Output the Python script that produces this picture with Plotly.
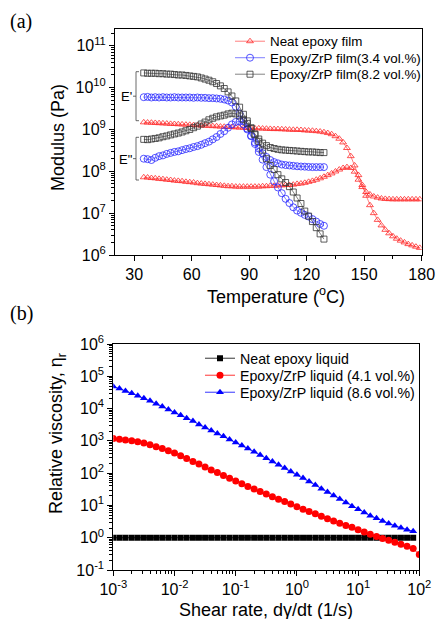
import plotly.graph_objects as go

W, H = 436, 619

# ---------------- Panel (a) data ----------------
T_neat = [35, 37, 39, 41, 43, 45, 47, 49, 51, 53, 55, 57, 59, 61, 63, 65, 67, 69, 71, 73,
          75, 77, 79, 81, 83, 85, 87, 89, 91, 93, 95, 97, 99, 101, 103, 105, 107, 109, 111, 113,
          115, 117, 119, 121, 123, 125, 127, 129, 131, 133, 135, 137, 139, 141, 143, 145, 147, 149, 151, 153,
          155, 157, 159, 161, 163, 165, 167, 169, 171, 173, 175, 177, 179]
neat_storage = [1.48e9, 1.46e9, 1.45e9, 1.43e9, 1.41e9, 1.40e9, 1.38e9, 1.36e9, 1.35e9, 1.33e9,
                1.32e9, 1.30e9, 1.29e9, 1.27e9, 1.26e9, 1.24e9, 1.23e9, 1.22e9, 1.20e9, 1.19e9,
                1.17e9, 1.16e9, 1.15e9, 1.14e9, 1.12e9, 1.11e9, 1.10e9, 1.08e9, 1.07e9, 1.06e9,
                1.06e9, 1.05e9, 1.04e9, 1.03e9, 1.02e9, 1.02e9, 1.01e9, 1.00e9, 9.9e8, 9.8e8,
                9.8e8, 9.7e8, 9.5e8, 9.4e8, 9.3e8, 9.1e8, 8.9e8, 8.6e8, 8.2e8, 7.7e8,
                6.9e8, 6.0e8, 4.9e8, 3.6e8, 2.3e8, 1.38e8, 8.1e7, 4.7e7, 2.6e7, 1.55e7,
                1.0e7, 6.9e6, 5.1e6, 4.0e6, 3.3e6, 2.8e6, 2.45e6, 2.2e6, 2.0e6, 1.82e6,
                1.7e6, 1.58e6, 1.48e6]
neat_loss = [7.2e7, 7.1e7, 6.9e7, 6.8e7, 6.6e7, 6.5e7, 6.3e7, 6.2e7, 6.0e7, 5.9e7,
             5.8e7, 5.6e7, 5.5e7, 5.4e7, 5.2e7, 5.1e7, 5.0e7, 4.9e7, 4.8e7, 4.7e7,
             4.6e7, 4.5e7, 4.4e7, 4.4e7, 4.3e7, 4.3e7, 4.3e7, 4.3e7, 4.3e7, 4.3e7,
             4.3e7, 4.4e7, 4.4e7, 4.5e7, 4.5e7, 4.6e7, 4.6e7, 4.7e7, 4.7e7, 4.8e7,
             5.0e7, 5.1e7, 5.3e7, 5.6e7, 5.9e7, 6.3e7, 6.8e7, 7.4e7, 8.1e7, 8.9e7,
             9.9e7, 1.10e8, 1.20e8, 1.26e8, 1.20e8, 9.8e7, 6.3e7, 4.2e7, 3.2e7, 2.8e7,
             2.5e7, 2.35e7, 2.24e7, 2.19e7, 2.16e7, 2.14e7, 2.14e7, 2.14e7, 2.14e7, 2.14e7,
             2.14e7, 2.14e7, 2.14e7]

T_zrp = [35, 37, 39, 41, 43, 45, 47, 49, 51, 53, 55, 57, 59, 61, 63, 65, 67, 69, 71, 73,
         75, 77, 79, 81, 83, 85, 87, 89, 91, 93, 95, 97, 99, 101, 103, 105, 107, 109, 111, 113,
         115, 117, 119, 121, 123, 125, 127, 129]
zrp34_storage = [5.9e9, 6.0e9, 5.8e9, 5.9e9, 5.8e9, 5.9e9, 5.8e9, 5.8e9, 5.9e9, 5.8e9,
                 5.8e9, 5.8e9, 5.8e9, 5.7e9, 5.8e9, 5.7e9, 5.7e9, 5.6e9, 5.6e9, 5.5e9,
                 5.4e9, 5.2e9, 4.9e9, 4.4e9, 3.5e9, 2.4e9, 1.58e9, 1.05e9, 7.1e8, 4.9e8,
                 3.5e8, 2.7e8, 2.2e8, 1.86e8, 1.66e8, 1.55e8, 1.45e8, 1.41e8, 1.38e8, 1.35e8,
                 1.32e8, 1.30e8, 1.29e8, 1.27e8, 1.26e8, 1.26e8, 1.26e8, 1.26e8]
zrp34_loss = [2.0e8, 1.95e8, 1.86e8, 2.1e8, 2.3e8, 2.4e8, 2.6e8, 2.75e8, 2.9e8, 3.0e8,
              3.2e8, 3.4e8, 3.55e8, 3.8e8, 4.0e8, 4.3e8, 4.7e8, 5.1e8, 5.8e8, 6.6e8,
              7.8e8, 9.1e8, 1.10e9, 1.32e9, 1.51e9, 1.55e9, 1.32e9, 1.0e9, 6.9e8, 4.5e8,
              2.9e8, 1.9e8, 1.26e8, 8.3e7, 5.8e7, 4.1e7, 3.0e7, 2.2e7, 1.74e7, 1.38e7,
              1.15e7, 1.02e7, 9.1e6, 8.3e6, 7.2e6, 6.3e6, 5.5e6, 5.0e6]
zrp82_storage = [2.24e10, 2.2e10, 2.2e10, 2.2e10, 2.15e10, 2.15e10, 2.1e10, 2.1e10, 2.05e10, 2.0e10,
                 2.0e10, 1.95e10, 1.9e10, 1.85e10, 1.8e10, 1.7e10, 1.6e10, 1.5e10, 1.38e10, 1.25e10,
                 1.1e10, 9.5e9, 7.9e9, 6.3e9, 4.8e9, 3.4e9, 2.3e9, 1.6e9, 1.1e9, 7.8e8,
                 5.9e8, 4.7e8, 4.1e8, 3.7e8, 3.5e8, 3.35e8, 3.25e8, 3.2e8, 3.15e8, 3.1e8,
                 3.05e8, 3.0e8, 2.95e8, 2.9e8, 2.9e8, 2.85e8, 2.8e8, 2.8e8]
zrp82_loss = [5.8e8, 5.7e8, 5.9e8, 6.1e8, 6.3e8, 6.7e8, 7.0e8, 7.4e8, 7.8e8, 8.2e8,
              8.7e8, 9.3e8, 1.0e9, 1.1e9, 1.2e9, 1.35e9, 1.5e9, 1.7e9, 1.85e9, 2.0e9,
              2.1e9, 2.2e9, 2.35e9, 2.45e9, 2.35e9, 2.1e9, 1.75e9, 1.4e9, 1.05e9, 7.5e8,
              5.2e8, 3.2e8, 2.0e8, 1.38e8, 1.1e8, 8.3e7, 6.6e7, 5.4e7, 4.3e7, 3.2e7,
              2.3e7, 1.7e7, 1.12e7, 8.5e6, 6.3e6, 4.5e6, 3.2e6, 2.4e6]

# ---------------- Panel (b) data ----------------
shear_rate = [0.001, 0.00126, 0.00158, 0.002, 0.00251, 0.00316, 0.00398, 0.00501, 0.00631, 0.00794,
              0.01, 0.0126, 0.0158, 0.02, 0.0251, 0.0316, 0.0398, 0.0501, 0.0631, 0.0794,
              0.1, 0.126, 0.158, 0.2, 0.251, 0.316, 0.398, 0.501, 0.631, 0.794,
              1.0, 1.26, 1.58, 2.0, 2.51, 3.16, 3.98, 5.01, 6.31, 7.94,
              10.0, 12.6, 15.8, 20.0, 25.1, 31.6, 39.8, 50.1, 63.1, 79.4,
              100.0]
neat_liquid = [1.0, 1.0, 1.0, 1.0, 1.0, 1.0, 1.0, 1.0, 1.0, 1.0,
               1.0, 1.0, 1.0, 1.0, 1.0, 1.0, 1.0, 1.0, 1.0, 1.0,
               1.0, 1.0, 1.0, 1.0, 1.0, 1.0, 1.0, 1.0, 1.0, 1.0,
               1.0, 1.0, 1.0, 1.0, 1.0, 1.0, 1.0, 1.0, 1.0, 1.0,
               1.0, 1.0, 1.0, 1.0, 1.0, 1.0, 1.0, 1.0, 1.0, 1.0]
zrp41_liquid = [1175, 1120, 1070, 1000, 933, 851, 759, 661, 575, 490,
                417, 347, 282, 229, 191, 155, 126, 105, 85, 69,
                57.5, 46.8, 38.9, 32.4, 26.9, 22.4, 18.6, 15.5, 13.2, 11.0,
                9.1, 7.6, 6.5, 5.5, 4.6, 3.9, 3.3, 2.8, 2.4, 2.1,
                1.78, 1.51, 1.29, 1.10, 0.95, 0.83, 0.72, 0.63, 0.54, 0.46,
                0.30]
zrp86_liquid = [4.8e4, 4.2e4, 3.5e4, 3.0e4, 2.5e4, 2.1e4, 1.74e4, 1.41e4, 1.15e4, 9.3e3,
                7.6e3, 6.2e3, 5.0e3, 4.1e3, 3.2e3, 2.6e3, 2.1e3, 1.7e3, 1.38e3, 1.10e3,
                890, 720, 575, 457, 363, 288, 229, 182, 145, 112,
                89, 71, 55, 43, 33, 26, 20.4, 15.8, 12.3, 9.5,
                7.6, 6.0, 4.8, 4.0, 3.3, 2.75, 2.34, 2.04, 1.78, 1.58]

mod_tickvals = [1e6, 1e7, 1e8, 1e9, 1e10, 1e11]
mod_ticktext = ["10<sup>6</sup>", "10<sup>7</sup>", "10<sup>8</sup>", "10<sup>9</sup>",
                "10<sup>10</sup>", "10<sup>11</sup>"]
temp_tickvals = [30, 60, 90, 120, 150, 180]
visc_tickvals = [0.1, 1, 10, 100, 1000, 1e4, 1e5, 1e6]
visc_ticktext = ["10<sup>-1</sup>", "10<sup>0</sup>", "10<sup>1</sup>", "10<sup>2</sup>",
                 "10<sup>3</sup>", "10<sup>4</sup>", "10<sup>5</sup>", "10<sup>6</sup>"]
rate_tickvals = [1e-3, 1e-2, 1e-1, 1, 10, 100]
rate_ticktext = ["10<sup>-3</sup>", "10<sup>-2</sup>", "10<sup>-1</sup>", "10<sup>0</sup>",
                 "10<sup>1</sup>", "10<sup>2</sup>"]

SANS = "Liberation Sans, Arial, sans-serif"
SERIF = "Liberation Serif, Times New Roman, serif"


def px(x):
    return x / W


def py(y):
    return (H - y) / H


RED_A = "#ff2828"
BLUE_A = "#2828ff"
BLACK_A = "#333333"

fig = go.Figure()
legend_layouts = {}


def add_legend(key, text_left, row_center, size):
    # one legend box per entry so that rows can be spaced like the reference
    legend_layouts[key] = dict(
        x=px(text_left - 41), y=py(row_center - 15), xanchor="left", yanchor="top",
        bgcolor="rgba(0,0,0,0)", borderwidth=0, tracegroupgap=0, itemwidth=30,
        font=dict(family=SANS, size=size, color="black"))


def film(x, y, color, symbol, size, name, show, leg):
    fig.add_trace(go.Scatter(
        x=x, y=y, mode="lines+markers", name=name, showlegend=show,
        line=dict(color=color, width=0.6),
        marker=dict(symbol=symbol, size=size, color=color,
                    line=dict(color=color, width=0.8)),
        xaxis="x", yaxis="y", legend=leg))


film(T_neat, neat_storage, RED_A, "triangle-up-open", 6, "Neat epoxy film", True, "legend")
film(T_neat, neat_loss, RED_A, "triangle-up-open", 6, "Neat epoxy film", False, "legend")
film(T_zrp, zrp34_storage, BLUE_A, "circle-open", 7, "Epoxy/ZrP film(3.4 vol.%)", True, "legend2")
film(T_zrp, zrp34_loss, BLUE_A, "circle-open", 7, "Epoxy/ZrP film(3.4 vol.%)", False, "legend2")
film(T_zrp, zrp82_storage, BLACK_A, "square-open", 6, "Epoxy/ZrP film(8.2 vol.%)", True, "legend3")
film(T_zrp, zrp82_loss, BLACK_A, "square-open", 6, "Epoxy/ZrP film(8.2 vol.%)", False, "legend3")
add_legend("legend", 271, 41, 13.4)
add_legend("legend2", 271, 57.5, 13.4)
add_legend("legend3", 271, 74, 13.4)


def liquid(x, y, color, symbol, size, name, leg):
    fig.add_trace(go.Scatter(
        x=x, y=y, mode="lines+markers", name=name,
        line=dict(color=color, width=0.8),
        marker=dict(symbol=symbol, size=size, color=color, line=dict(width=0)),
        xaxis="x2", yaxis="y2", legend=leg))


liquid(shear_rate[:len(neat_liquid)], neat_liquid, "#000000", "square", 6, "Neat epoxy liquid", "legend4")
liquid(shear_rate[:len(zrp41_liquid)], zrp41_liquid, "#ff0000", "circle", 7,
       "Epoxy/ZrP liquid (4.1 vol.%)", "legend5")
liquid(shear_rate[:len(zrp86_liquid)], zrp86_liquid, "#0000ff", "triangle-up", 7,
       "Epoxy/ZrP liquid (8.6 vol.%)", "legend6")
add_legend("legend4", 241, 357.5, 14.2)
add_legend("legend5", 241, 374.5, 14.2)
add_legend("legend6", 241, 391.5, 14.2)

axis_common = dict(showline=True, linecolor="black", linewidth=1, mirror=True,
                   ticks="outside", ticklen=5, tickwidth=1, tickcolor="black",
                   showgrid=False, zeroline=False, automargin=False,
                   tickfont=dict(family=SANS, size=16, color="black"))

fig.update_layout(
    width=W, height=H,
    margin=dict(l=0, r=0, t=0, b=0),
    paper_bgcolor="white", plot_bgcolor="white",
    xaxis=dict(domain=[px(115), px(421.7)], anchor="y", range=[20, 180],
               tickvals=temp_tickvals,
               minor=dict(ticks="outside", ticklen=3, tickcolor="black", dtick=15, tick0=15),
               **axis_common),
    yaxis=dict(domain=[py(255), py(29)], anchor="x", type="log", range=[6, 11.4],
               tickvals=mod_tickvals, ticktext=mod_ticktext,
               minor=dict(ticks="outside", ticklen=3, tickcolor="black", dtick="D1"),
               **axis_common),
    xaxis2=dict(domain=[px(113.3), px(419.3)], anchor="y2", type="log", range=[-3, 2],
                tickvals=rate_tickvals, ticktext=rate_ticktext,
                minor=dict(ticks="outside", ticklen=3, tickcolor="black", dtick="D1"),
                **axis_common),
    yaxis2=dict(domain=[py(570), py(344)], anchor="x2", type="log", range=[-1, 6],
                tickvals=visc_tickvals, ticktext=visc_ticktext,
                minor=dict(ticks="outside", ticklen=3, tickcolor="black", dtick="D1"),
                **axis_common),
    **legend_layouts,
)


def label(text, x, y, size, family=SANS, angle=0):
    return dict(text=text, x=px(x), y=py(y), xref="paper", yref="paper",
                xanchor="center", yanchor="middle", textangle=angle,
                showarrow=False, font=dict(family=family, size=size, color="black"))


ann = [
    label("(a)", 21, 21, 20, SERIF),
    label("(b)", 21, 313, 20, SERIF),
    label("Modulus (Pa)", 58, 138, 18, angle=-90),
    label("Temperature (<sup>o</sup>C)", 276, 295, 18),
    label("Relative viscosity, η<sub>r</sub>", 57, 434, 18, angle=-90),
    label("Shear rate, dγ/dt (1/s)", 266, 610, 18),
    label("E'", 126, 97, 13),
    label("E\"", 126, 159, 13),
]
fig.update_layout(annotations=ann)

shapes = []
for top, bot in [(71.7, 120.7), (137.3, 180.0)]:
    mid = (top + bot) / 2
    segs = [((136, top), (136, bot)), ((136, top), (139, top)), ((136, bot), (139, bot)),
            ((133, mid), (136, mid))]
    for (x0, y0), (x1, y1) in segs:
        shapes.append(dict(type="line", xref="paper", yref="paper",
                           x0=px(x0), y0=py(y0), x1=px(x1), y1=py(y1),
                           line=dict(color="#444444", width=0.8)))
fig.update_layout(shapes=shapes)

fig.write_html("out.html")
